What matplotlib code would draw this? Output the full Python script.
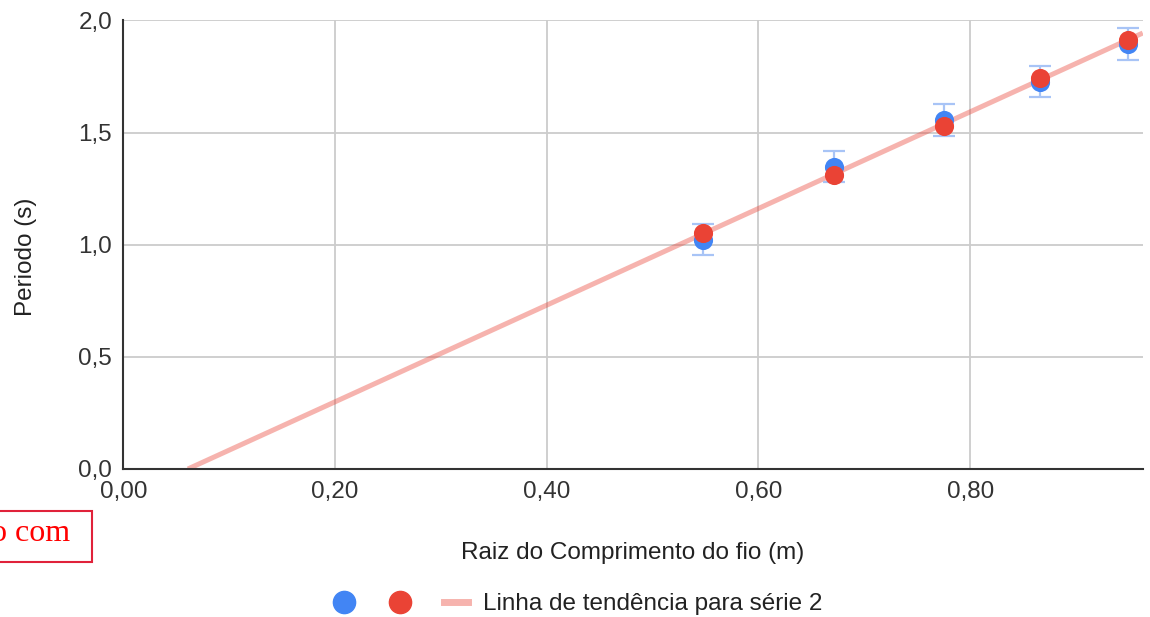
import matplotlib.pyplot as plt
import numpy as np
from matplotlib.patches import Rectangle
from matplotlib.lines import Line2D

plt.rcParams['font.family'] = ['Liberation Sans', 'DejaVu Sans']

# raiz do comprimento do fio (m) e periodos medidos (s)
raiz_l = [0.548, 0.671, 0.775, 0.866, 0.949]
periodo_1 = [1.022, 1.348, 1.556, 1.727, 1.895]
periodo_2 = [1.054, 1.313, 1.528, 1.742, 1.915]
erro_1 = [0.07, 0.07, 0.07, 0.07, 0.07]

x_ticks = [0.0, 0.2, 0.4, 0.6, 0.8]
y_ticks = [0.0, 0.5, 1.0, 1.5, 2.0]

azul = "#4285f4"
vermelho = "#ea4335"
fs = 17.5

fig = plt.figure(figsize=(11.5, 6.17), dpi=100)
ax = fig.add_axes([0.1072, 0.2399, 0.8865, 0.7269])

# linha de tendencia da serie 2 (minimos quadrados)
a, b = np.polyfit(raiz_l, periodo_2, 1)
xt = np.array([-b / a, 0.963])
ax.plot(xt, a * xt + b, color=vermelho, alpha=0.4, lw=3.6,
        solid_capstyle="butt", zorder=2)

ax.errorbar(raiz_l, periodo_1, yerr=erro_1, fmt="none", ecolor="#a8c4f6",
            elinewidth=1.6, capsize=8, capthick=1.6, zorder=3)
ax.scatter(raiz_l, periodo_1, s=190, color=azul, zorder=4, linewidths=0)
ax.scatter(raiz_l, periodo_2, s=190, color=vermelho, zorder=5, linewidths=0)

ax.set_xlim(0, 0.963)
ax.set_ylim(0, 2.0)
ax.set_xticks(x_ticks)
ax.set_yticks(y_ticks)
ax.set_xticklabels([f"{v:.2f}".replace(".", ",") for v in x_ticks])
ax.set_yticklabels([f"{v:.1f}".replace(".", ",") for v in y_ticks])
ax.tick_params(length=0, labelsize=fs, colors="#333333")
ax.tick_params(axis="x", pad=9)
ax.tick_params(axis="y", pad=8)

ax.grid(True, color="#cccccc", lw=1.3)
ax.set_axisbelow(True)
for s in ["top", "right"]:
    ax.spines[s].set_visible(False)
for s in ["left", "bottom"]:
    ax.spines[s].set_color("#333333")
    ax.spines[s].set_linewidth(1.5)
    ax.spines[s].set_zorder(6)

ax.set_xlabel("Raiz do Comprimento do fio (m)", fontsize=fs, color="#222222",
              labelpad=28)
ax.set_ylabel("Periodo (s)", fontsize=fs, color="#222222")
ax.yaxis.set_label_coords(-0.085, 0.473)

handles = [
    Line2D([], [], marker="o", ls="none", color=azul, markersize=16),
    Line2D([], [], marker="o", ls="none", color=vermelho, markersize=16),
    Line2D([], [], color=vermelho, alpha=0.4, lw=5),
]
fig.legend(handles, ["", "", "Linha de tendência para série 2"],
           loc="center", bbox_to_anchor=(0.502, 0.021), ncol=3, frameon=False,
           fontsize=fs, handlelength=1.0, columnspacing=0.7, handletextpad=0.6,
           labelcolor="#222222")

# caixa de texto vermelha no canto
fig.patches.append(Rectangle((-0.01, 1 - 562 / 617), 0.0897, 51 / 617,
                             transform=fig.transFigure, fill=False,
                             edgecolor="#e0223a", lw=1.5))
fig.text(-0.008, 1 - 541 / 617, "o com", family="Liberation Serif",
         fontsize=23, color="red")

fig.savefig("out.png", dpi=100)
